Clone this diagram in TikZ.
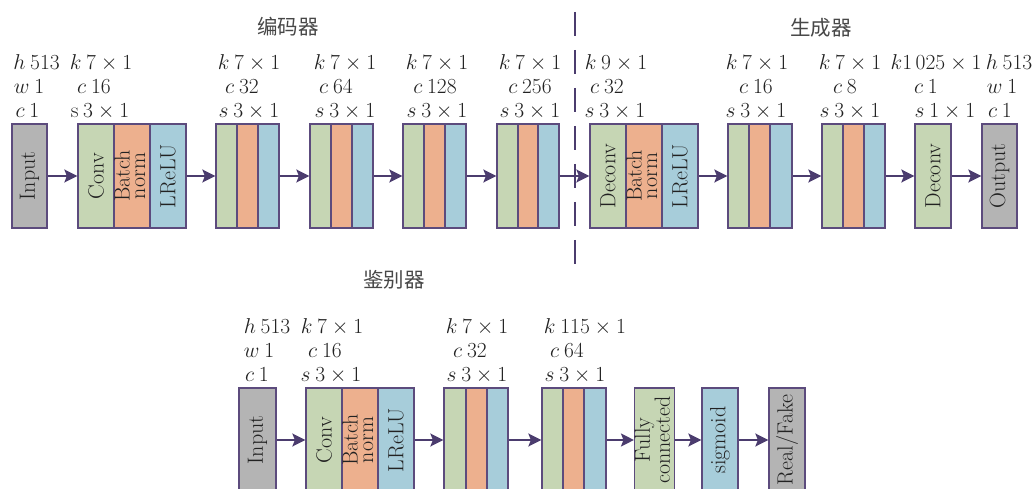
\RequirePackage{fix-cm}
\documentclass[tikz,border=0pt]{standalone}
\usepackage{fontspec}
\newfontfamily\cjk{Noto Sans CJK SC}
\usetikzlibrary{arrows.meta}
\definecolor{bordc}{HTML}{5C4B7D}
\definecolor{arrc}{HTML}{4B3C6E}
\definecolor{gyf}{HTML}{B4B4B4}
\definecolor{grf}{HTML}{C6D6B4}
\definecolor{orf}{HTML}{EDB08E}
\definecolor{blf}{HTML}{A7CDDA}
\definecolor{txtc}{HTML}{222222}
\newcommand\bx[6]{\node[box,fill=#5,minimum width={#3-#2}] (#1) at ({(#2+#3)/2},#4) {#6};}
\newcommand\lab[4]{\node[lab] (#1) at (#2,#3) {#4};}
\newcommand\vt[1]{\rotatebox{90}{#1}}
\newcommand\vtt[2]{\rotatebox{90}{\def\arraystretch{0.7}\begin{tabular}{@{}c@{}}#1\\#2\end{tabular}}}
\begin{document}
\begin{tikzpicture}[x=1pt,y=-1pt,
  box/.style={draw=bordc,line width=1.3pt,minimum height=104pt,inner sep=0pt,text=txtc,
    font=\fontsize{22}{22}\selectfont},
  lab/.style={inner sep=0pt,text=txtc,text height=14pt,text depth=2pt,font=\fontsize{21.5}{26}\selectfont},
  ttl/.style={inner sep=0pt,text=black!72,font=\cjk\fontsize{20.5}{24}\selectfont},
  arr/.style={draw=arrc,line width=1.8pt,-{Stealth[length=13pt,width=13pt,inset=2.5pt]}},
  divl/.style={draw=arrc,line width=2.8pt,dash pattern=on 24pt off 14pt}]
\clip (0,0) rectangle (1034,489);
% titles
\node[ttl] (t1) at (288,27) {编码器};
\node[ttl] (t2) at (821,28) {生成器};
\node[ttl] (t3) at (394,280) {鉴别器};
% divider
\coordinate (dv1) at (575,12);
\coordinate (dv2) at (575,265);
\draw[divl] (dv1) -- (dv2);
% ---------- top row ----------
\bx{in}{12}{47}{176}{gyf}{\vt{Input}}
\bx{e1a}{78}{114}{176}{grf}{\vt{Conv}}
\bx{e1b}{114}{150}{176}{orf}{\vtt{Batch}{norm}}
\bx{e1c}{150}{186}{176}{blf}{\vt{LReLU}}
\bx{e2a}{216}{237}{176}{grf}{}
\bx{e2b}{237}{258}{176}{orf}{}
\bx{e2c}{258}{279}{176}{blf}{}
\bx{e3a}{310}{331}{176}{grf}{}
\bx{e3b}{331}{352}{176}{orf}{}
\bx{e3c}{352}{373}{176}{blf}{}
\bx{e4a}{403}{424}{176}{grf}{}
\bx{e4b}{424}{445}{176}{orf}{}
\bx{e4c}{445}{466}{176}{blf}{}
\bx{e5a}{497}{518}{176}{grf}{}
\bx{e5b}{518}{538}{176}{orf}{}
\bx{e5c}{538}{559}{176}{blf}{}
\bx{g1a}{590}{626}{176}{grf}{\vt{Deconv}}
\bx{g1b}{626}{662}{176}{orf}{\vtt{Batch}{norm}}
\bx{g1c}{662}{698}{176}{blf}{\vt{LReLU}}
\bx{g2a}{728}{749}{176}{grf}{}
\bx{g2b}{749}{770}{176}{orf}{}
\bx{g2c}{770}{792}{176}{blf}{}
\bx{g3a}{822}{843}{176}{grf}{}
\bx{g3b}{843}{864}{176}{orf}{}
\bx{g3c}{864}{885}{176}{blf}{}
\bx{g4}{915}{951}{176}{grf}{\vt{Deconv}}
\bx{out}{982}{1017}{176}{gyf}{\vt{Output}}
\draw[arr] (in.east) -- (e1a.west);
\draw[arr] (e1c.east) -- (e2a.west);
\draw[arr] (e2c.east) -- (e3a.west);
\draw[arr] (e3c.east) -- (e4a.west);
\draw[arr] (e4c.east) -- (e5a.west);
\draw[arr] (e5c.east) -- (g1a.west);
\draw[arr] (g1c.east) -- (g2a.west);
\draw[arr] (g2c.east) -- (g3a.west);
\draw[arr] (g3c.east) -- (g4.west);
\draw[arr] (g4.east) -- (out.west);
% top labels
\lab{la1}{36.5}{64}{$h\:513$}
\lab{la2}{29}{88}{$w\:1$}
\lab{la3}{27.5}{112}{$c\:1$}
\lab{lb1}{101}{64}{$k\:7\times1$}
\lab{lb2}{94}{88}{$c\:16$}
\lab{lb3}{100}{112}{$\mathrm{s}\:3\times1$}
\lab{lc1}{249}{64}{$k\:7\times1$}
\lab{lc2}{242}{88}{$c\:32$}
\lab{lc3}{249}{112}{$s\:3\times1$}
\lab{ld1}{345}{64}{$k\:7\times1$}
\lab{ld2}{336}{88}{$c\:64$}
\lab{ld3}{345}{112}{$s\:3\times1$}
\lab{le1}{437}{64}{$k\:7\times1$}
\lab{le2}{435}{88}{$c\:128$}
\lab{le3}{437}{112}{$s\:3\times1$}
\lab{lf1}{530}{64}{$k\:7\times1$}
\lab{lf2}{530}{88}{$c\:256$}
\lab{lf3}{530}{112}{$s\:3\times1$}
\lab{lg1}{616}{64}{$k\:9\times1$}
\lab{lg2}{607}{88}{$c\:32$}
\lab{lg3}{615}{112}{$s\:3\times1$}
\lab{lh1}{757}{64}{$k\:7\times1$}
\lab{lh2}{756}{88}{$c\:16$}
\lab{lh3}{756}{112}{$s\:3\times1$}
\lab{li1}{850}{64}{$k\:7\times1$}
\lab{li2}{845}{88}{$c\:8$}
\lab{li3}{850}{112}{$s\:3\times1$}
\lab{lj1}{936}{64}{$k1\,025\times1$}
\lab{lj2}{926}{88}{$c\:1$}
\lab{lj3}{945}{112}{$s\:1\times1$}
\lab{lk1}{1009}{64}{$h\:513$}
\lab{lk2}{1002}{88}{$w\:1$}
\lab{lk3}{1000}{112}{$c\:1$}
% ---------- bottom row ----------
\bx{din}{239}{276}{440}{gyf}{\vt{Input}}
\bx{d1a}{306}{342}{440}{grf}{\vt{Conv}}
\bx{d1b}{342}{378}{440}{orf}{\vtt{Batch}{norm}}
\bx{d1c}{378}{414}{440}{blf}{\vt{LReLU}}
\bx{d2a}{444}{466}{440}{grf}{}
\bx{d2b}{466}{487}{440}{orf}{}
\bx{d2c}{487}{508}{440}{blf}{}
\bx{d3a}{542}{563}{440}{grf}{}
\bx{d3b}{563}{584}{440}{orf}{}
\bx{d3c}{584}{606}{440}{blf}{}
\bx{fc}{636}{673}{440}{grf}{\vtt{Fully}{connected}}
\bx{sg}{702}{738}{440}{blf}{\vt{sigmoid}}
\bx{rf}{769}{805}{440}{gyf}{\vt{Real/Fake}}
\draw[arr] (din.east) -- (d1a.west);
\draw[arr] (d1c.east) -- (d2a.west);
\draw[arr] (d2c.east) -- (d3a.west);
\draw[arr] (d3c.east) -- (fc.west);
\draw[arr] (fc.east) -- (sg.west);
\draw[arr] (sg.east) -- (rf.west);
% bottom labels
\lab{ma1}{267}{327}{$h\:513$}
\lab{ma2}{259}{351}{$w\:1$}
\lab{ma3}{257}{375}{$c\:1$}
\lab{mb1}{332}{327}{$k\:7\times1$}
\lab{mb2}{325}{351}{$c\:16$}
\lab{mb3}{331}{375}{$s\:3\times1$}
\lab{mc1}{477}{327}{$k\:7\times1$}
\lab{mc2}{470}{351}{$c\:32$}
\lab{mc3}{477}{375}{$s\:3\times1$}
\lab{md1}{585}{327}{$k\:115\times1$}
\lab{md2}{567}{351}{$c\:64$}
\lab{md3}{575}{375}{$s\:3\times1$}
\end{tikzpicture}
\end{document}
